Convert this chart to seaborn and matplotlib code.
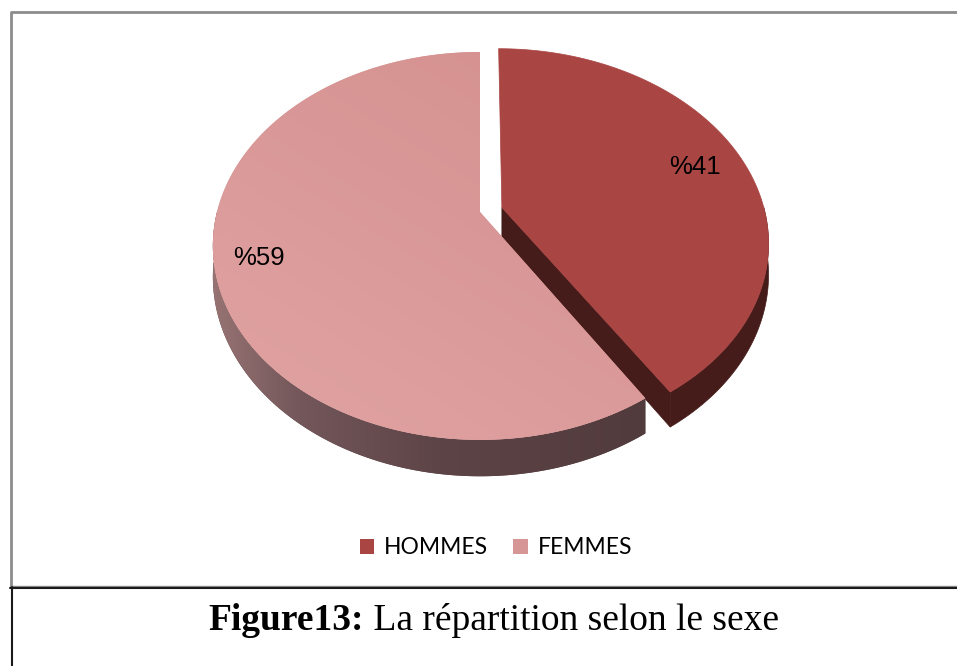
import numpy as np
import matplotlib.pyplot as plt
import seaborn as sns
from matplotlib.patches import Polygon, Patch
from matplotlib.colors import to_rgb

sns.set_theme(style="white")

labels = ["HOMMES", "FEMMES"]
values = [41, 59]
pct_labels = ["%41", "%59"]
explode = [0.087, 0.0]
top_colors = ["#A94543", "#D69695"]
caption_bold = "Figure13:"
caption_text = " La répartition selon le sexe"

# fake 3d projection of the pie (pixel space)
CX, CY = 480, 212
A, K, P, T = 263, 188, 0.175, 30


def proj(u, v, h=0.0):
    d = 1 + P * v
    return CX + A * u / d, CY - K * v / d + T * h / d


def rim(theta, off, h=0.0):
    t = np.radians(theta)
    return proj(np.cos(t) + off[0], np.sin(t) + off[1], h)


def gradient(ax, patch, stops, cols, z):
    # horizontal colour gradient clipped to a patch
    xs = np.linspace(0, 957, 957)
    rgb = np.array([to_rgb(c) for c in cols])
    row = np.column_stack([np.interp(xs, stops, rgb[:, k]) for k in range(3)])
    img = np.repeat(row[None, :, :], 2, axis=0)
    im = ax.imshow(img, extent=(0, 957, 666, 0), origin="upper", zorder=z,
                   interpolation="bilinear")
    im.set_clip_path(patch)


fig = plt.figure(figsize=(9.57, 6.66), dpi=100)
ax = fig.add_axes([0, 0, 1, 1])

# wedge angles, clockwise from 12 o'clock
fracs = np.array(values) / sum(values)
ends = 90 - 360 * np.cumsum(fracs)
starts = np.concatenate([[90], ends[:-1]])
mids = (starts + ends) / 2
offs = [(e * np.cos(np.radians(m)), e * np.sin(np.radians(m))) for e, m in zip(explode, mids)]


def top_poly(i, n=200):
    th = np.linspace(starts[i], ends[i], n)
    xs, ys = rim(th, offs[i])
    cx, cy = proj(offs[i][0], offs[i][1])
    return np.column_stack([np.r_[cx, xs], np.r_[cy, ys]])


def wall_poly(i):
    lo, hi = max(ends[i], -180), min(starts[i], 0)
    th = np.linspace(lo, hi, 150)
    x1, y1 = rim(th, offs[i])
    x2, y2 = rim(th[::-1], offs[i], 1.0)
    return np.column_stack([np.r_[x1, x2], np.r_[y1, y2]])


def cut_face(i, theta):
    ox, oy = offs[i]
    cx0, cy0 = proj(ox, oy)
    cx1, cy1 = proj(ox, oy, 1.0)
    rx0, ry0 = rim(theta, offs[i])
    rx1, ry1 = rim(theta, offs[i], 1.0)
    return [[cx0, cy0], [rx0, ry0], [rx1, ry1], [cx1, cy1]]


# HOMMES (exploded) first, FEMMES drawn over it
dark = "#461C1B"
ax.add_patch(Polygon(cut_face(0, ends[0]), facecolor=dark, edgecolor=dark, lw=0.5, zorder=2))
ax.add_patch(Polygon(wall_poly(0), facecolor=dark, edgecolor=dark, lw=0.5, zorder=2))
ax.add_patch(Polygon(top_poly(0), facecolor=top_colors[0], edgecolor=top_colors[0], lw=0.5, zorder=3))

fwall = Polygon(wall_poly(1), facecolor="#5C4346", edgecolor="none", zorder=4)
ax.add_patch(fwall)
gradient(ax, fwall, [213, 300, 440, 640], ["#977373", "#73575A", "#5D4447", "#523B3D"], 4)

fpoly = Polygon(top_poly(1), facecolor=top_colors[1], edgecolor="none", zorder=5)
ax.add_patch(fpoly)
gx, gy = np.meshgrid(np.linspace(0, 1, 200), np.linspace(0, 1, 200))
g = np.clip((gy * 0.6 + (1 - gx) * 0.4), 0, 1)
c0, c1 = np.array(to_rgb("#D38F8E")), np.array(to_rgb("#E1A4A3"))
img = c0[None, None, :] * (1 - g[..., None]) + c1[None, None, :] * g[..., None]
im = ax.imshow(img, extent=(205, 645, 450, 45), origin="upper", zorder=5, interpolation="bilinear")
im.set_clip_path(fpoly)

# percentage labels
lab_r = [0.8, 0.84]
for i in range(len(values)):
    t = np.radians(mids[i])
    lx, ly = proj(lab_r[i] * np.cos(t) + offs[i][0], lab_r[i] * np.sin(t) + offs[i][1])
    ax.text(lx, ly, pct_labels[i], ha="center", va="center", fontsize=18.5,
            family="Liberation Sans", color="black", zorder=10)

# frames
ax.plot([10.5, 10.5, 957], [586, 11.5, 11.5], color="#8C8C8C", lw=2, solid_capstyle="butt", zorder=1)
ax.plot([10, 957], [586, 586], color="#8C8C8C", lw=1, zorder=1)
ax.plot([10, 957], [587.5, 587.5], color="#1A1A1A", lw=1.5, zorder=1)
ax.plot([11.5, 11.5], [587, 666], color="#1A1A1A", lw=1.5, zorder=1)

# legend
handles = [Patch(facecolor=c, edgecolor="none", label=l) for c, l in zip(top_colors, labels)]
fig.legend(handles=handles, loc="center", bbox_to_anchor=(496 / 957, 1 - 548 / 666), ncol=2,
           frameon=False, prop={"family": "Lato", "size": 16.5}, handlelength=0.62,
           handleheight=0.62, handletextpad=0.45, columnspacing=1.1, borderpad=0,
           labelcolor="black")

ax.set_xlim(0, 957)
ax.set_ylim(666, 0)
ax.set_aspect("auto")
ax.axis("off")

# caption
tb = ax.text(208, 620, caption_bold, ha="left", va="center", fontsize=27,
             family="Liberation Serif", weight="bold", color="black")
fig.canvas.draw()
bb = tb.get_window_extent()
ax.text(bb.x1, 620, caption_text, ha="left", va="center", fontsize=27,
        family="Liberation Serif", color="black")

fig.savefig("out.png", dpi=100, facecolor="white")
